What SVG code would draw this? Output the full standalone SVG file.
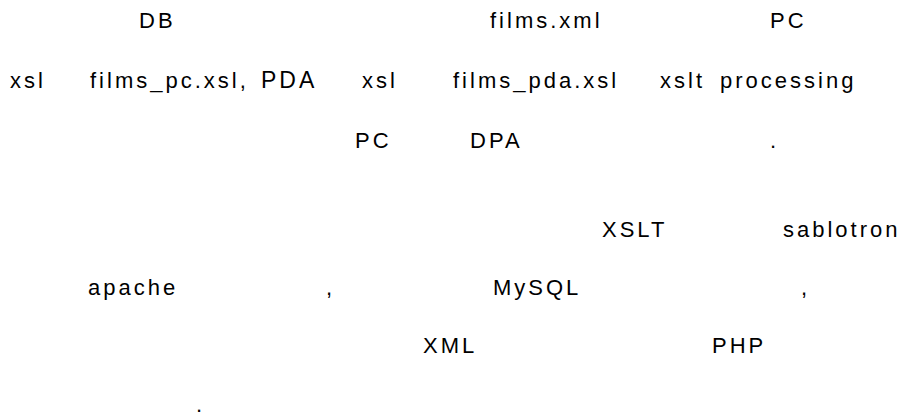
<svg xmlns="http://www.w3.org/2000/svg" width="911" height="417" viewBox="0 0 911 417">
<style>
text{font-family:"Liberation Sans",Arial,sans-serif;font-size:22px;letter-spacing:3px;fill:#000}
</style>
<rect width="911" height="417" fill="#fff"/>
<g id="line1">
<text x="139" y="28">DB</text>
<text x="490" y="28">films.xml</text>
<text x="770" y="28">PC</text>
</g>
<g id="line2">
<text x="10" y="88">xsl</text>
<text x="90" y="88">films_pc.xsl,</text>
<text x="261" y="88" style="font-size:23px">PDA</text>
<text x="362" y="88">xsl</text>
<text x="453" y="88">films_pda.xsl</text>
<text x="660" y="88">xslt</text>
<text x="720" y="88">processing</text>
</g>
<g id="line3">
<text x="355" y="148">PC</text>
<text x="470" y="148">DPA</text>
<text x="770" y="148">.</text>
</g>
<g id="line4">
<text x="602" y="237">XSLT</text>
<text x="783" y="237">sablotron</text>
</g>
<g id="line5">
<text x="88" y="295">apache</text>
<text x="326" y="295">,</text>
<text x="493" y="295">MySQL</text>
<text x="801" y="295">,</text>
</g>
<g id="line6">
<text x="423" y="353">XML</text>
<text x="712" y="353">PHP</text>
</g>
<g id="line7">
<text x="196" y="412">.</text>
</g>
</svg>
